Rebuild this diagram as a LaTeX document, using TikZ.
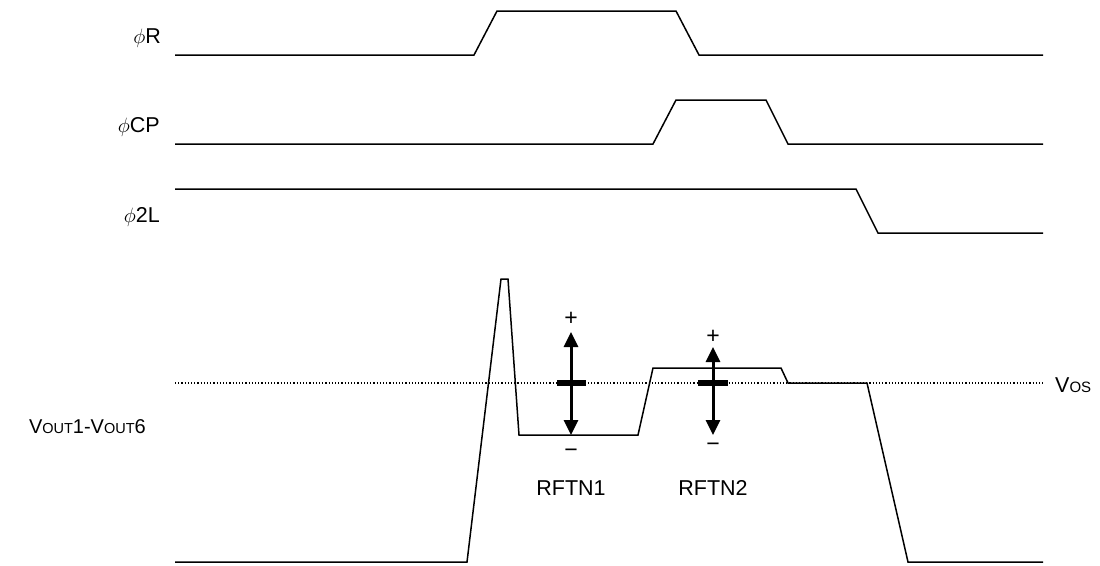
\documentclass[tikz,border=0pt]{standalone}
\usepackage{fontspec}
\setmainfont{Liberation Sans}
\usetikzlibrary{arrows.meta}
\begin{document}
\begin{tikzpicture}[x=1pt,y=-1pt,
  wave/.style={line width=1.5pt,line join=miter,black},
  lvl/.style={line width=1.2pt,dash pattern=on 1.2pt off 2pt,black},
  lbl/.style={inner sep=0pt,font=\fontsize{21.5}{24}\selectfont},
  sgn/.style={inner sep=0pt,font=\fontsize{23}{25}\selectfont},
  adjarrow/.style={line width=3pt,{Triangle[length=15pt,width=14pt]}-{Triangle[length=15pt,width=14pt]}},
  barmark/.style={line width=6pt}]
\useasboundingbox (0,0) rectangle (1100,565);
% labels
\node[lbl,anchor=base east] (lR) at (161,43) {$\phi$R};
\node[lbl,anchor=base east] (lCP) at (160,132) {$\phi$CP};
\node[lbl,anchor=base east] (l2L) at (160,222) {$\phi$2L};
\node[lbl,anchor=base east,font=\fontsize{20}{22}\selectfont] (lV) at (146,433) {V{\fontsize{14.5}{16}\selectfont OUT}1-V{\fontsize{14.5}{16}\selectfont OUT}6};
\node[lbl,anchor=base west] (lVos) at (1055,392) {V{\fontsize{15}{16}\selectfont OS}};
\node[lbl,anchor=base] (rf1) at (571,495) {RFTN1};
\node[lbl,anchor=base] (rf2) at (713,495) {RFTN2};
% waveforms
\draw[wave] (175,55) -- (474,55) -- (497,11) -- (676,11) -- (699,55) -- (1043,55);
\draw[wave] (175,144) -- (653,144) -- (676,100) -- (766,100) -- (788,144) -- (1043,144);
\draw[wave] (175,189) -- (856,189) -- (878,233) -- (1043,233);
\draw[lvl] (175,383) -- (1043,383);
\draw[wave] (175,562) -- (467,562) -- (501,279) -- (508,279) -- (519,435) -- (638,435)
  -- (653,368) -- (781,368) -- (788,383) -- (867,383) -- (908,562) -- (1043,562);
% adjustment arrows
\coordinate (a1t) at (571,332);
\coordinate (a1b) at (571,435);
\coordinate (a2t) at (713,347);
\coordinate (a2b) at (713,435);
\draw[adjarrow] (a1b) -- (a1t);
\draw[adjarrow] (a2b) -- (a2t);
\draw[barmark] (557,383) -- (586,383);
\draw[barmark] (698,383) -- (728,383);
\node[sgn] (p1) at (571,319) {+};
\node[sgn] (m1) at (571,453) {−};
\node[sgn] (p2) at (713,337) {+};
\node[sgn] (m2) at (713,447) {−};
\end{tikzpicture}
\end{document}
